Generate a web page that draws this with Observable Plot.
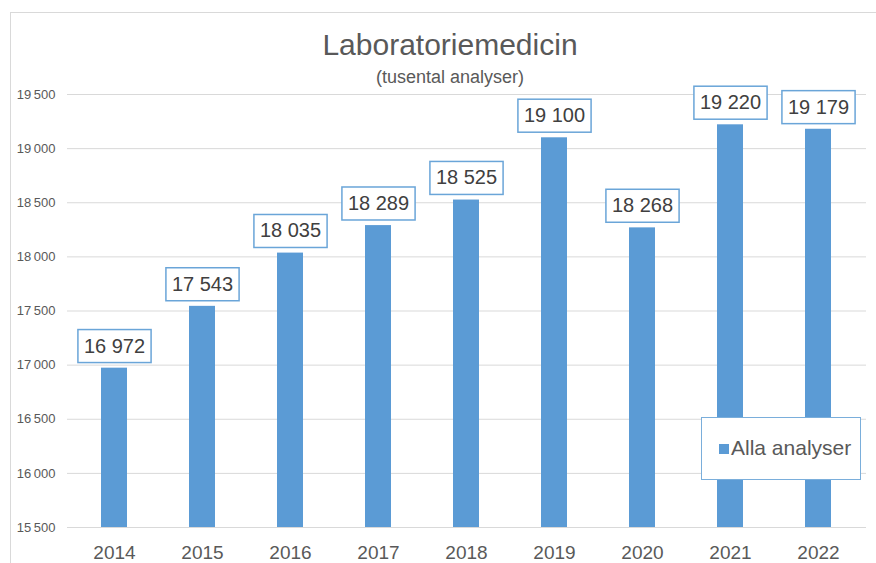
<!DOCTYPE html>
<html>
<head>
<meta charset="utf-8">
<script src="https://cdn.jsdelivr.net/npm/d3@7"></script>
<script src="https://cdn.jsdelivr.net/npm/@observablehq/plot@0.6"></script>
<style>
  html, body { margin: 0; padding: 0; background: #ffffff; }
  #wrap { position: relative; width: 876px; height: 563px; overflow: hidden; font-family: "Liberation Sans", Arial, sans-serif; }
  #frame { position: absolute; left: 10px; top: 12px; width: 900px; height: 600px; border-left: 1px solid #d9d9d9; border-top: 1px solid #d9d9d9; }
  #title { position: absolute; left: 0; width: 900px; top: 28px; text-align: center; font-size: 30px; color: #595959; line-height: 34px; }
  #subtitle { position: absolute; left: 0; width: 900px; top: 67px; text-align: center; font-size: 18px; color: #595959; line-height: 20px; }
  #chart { position: absolute; left: 0; top: 0; }
  #legend { position: absolute; left: 701px; top: 417px; width: 160px; height: 63px; border: 1px solid #7aaedb; background: #ffffff; box-sizing: border-box; }
  #legend .sw { position: absolute; left: 17px; top: 26px; width: 10px; height: 10px; background: #5B9BD5; }
  #legend .lt { position: absolute; left: 29px; top: 18px; font-size: 21px; line-height: 24px; color: #595959; white-space: nowrap; }
</style>
</head>
<body>
<div id="wrap">
  <div id="frame"></div>
  <div id="chart"></div>
  <div id="title"></div>
  <div id="subtitle"></div>
  <div id="legend"><div class="sw"></div><div class="lt"></div></div>
</div>
<script>
const titleText = "Laboratoriemedicin";
const subtitleText = "(tusental analyser)";
const seriesName = "Alla analyser";
const years = ["2014", "2015", "2016", "2017", "2018", "2019", "2020", "2021", "2022"];
const values = [16972, 17543, 18035, 18289, 18525, 19100, 18268, 19220, 19179];
const yTicks = [15500, 16000, 16500, 17000, 17500, 18000, 18500, 19000, 19500];

document.getElementById("title").textContent = titleText;
document.getElementById("subtitle").textContent = subtitleText;
document.querySelector("#legend .lt").textContent = seriesName;

const data = years.map((y, i) => ({year: y, value: values[i]}));
const base = yTicks[0];
const thin = (v) => d3.format(",")(v).replace(/,/g, "\u2009");
const labelFmt = (v) => d3.format(",")(v).replace(/,/g, " ");

const chart = Plot.plot({
  width: 876,
  height: 563,
  marginLeft: 67,
  marginRight: 10,
  marginTop: 94,
  marginBottom: 36,
  style: {fontFamily: "'Liberation Sans', Arial, sans-serif", background: "transparent", overflow: "visible"},
  x: {domain: years, paddingInner: 0.7, paddingOuter: 0.35, label: null, axis: null},
  y: {domain: [yTicks[0], yTicks[yTicks.length - 1]], label: null, axis: null},
  marks: [
    Plot.gridY(yTicks, {stroke: "#d9d9d9", strokeOpacity: 1, strokeWidth: 1}),
    Plot.axisY(yTicks, {tickSize: 0, tickPadding: 12, tickFormat: thin, fontSize: 13, fill: "#595959", label: null}),
    Plot.axisX({tickSize: 0, tickPadding: 18, fontSize: 19, fill: "#595959", label: null}),
    Plot.barY(data, {x: "year", y1: base, y2: "value", fill: "#5B9BD5"}),
    Plot.text(data, {x: "year", y: "value", text: d => labelFmt(d.value), dy: -22, fontSize: 20, fill: "#404040", className: "vlabel"})
  ]
});
document.getElementById("chart").appendChild(chart);

// draw boxes around the value labels
const g = chart.querySelector("g.vlabel") || chart.querySelector(".vlabel");
if (g) {
  const texts = Array.from(g.querySelectorAll("text"));
  texts.forEach(t => {
    const b = t.getBBox();
    const tr = t.getAttribute("transform");
    const r = document.createElementNS("http://www.w3.org/2000/svg", "rect");
    const w = b.width + 12, h = 33;
    r.setAttribute("x", b.x + b.width / 2 - w / 2);
    r.setAttribute("y", b.y + b.height / 2 - h / 2 + 0.5);
    r.setAttribute("width", w);
    r.setAttribute("height", h);
    r.setAttribute("fill", "#ffffff");
    r.setAttribute("stroke", "#6aa5d8");
    r.setAttribute("stroke-width", "1.5");
    if (tr) r.setAttribute("transform", tr);
    g.insertBefore(r, t);
  });
}
</script>
</body>
</html>
